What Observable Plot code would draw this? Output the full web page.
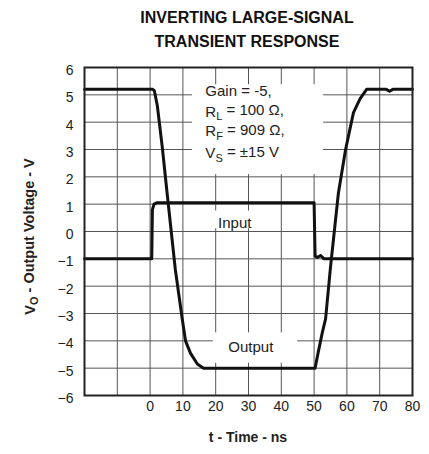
<!DOCTYPE html>
<html>
<head>
<meta charset="utf-8">
<script src="https://cdn.jsdelivr.net/npm/d3@7"></script>
<script src="https://cdn.jsdelivr.net/npm/@observablehq/plot@0.6"></script>
<style>
  html, body { margin: 0; padding: 0; background: #fff; }
  body { width: 429px; height: 454px; overflow: hidden; font-family: "Liberation Sans", Arial, sans-serif; }
  #title { box-sizing: border-box; height: 55px; width: 429px; padding: 6px 0 0 65px; text-align: center;
           font-weight: bold; font-size: 16px; line-height: 24px; color: #111; }
  #chart svg { display: block; }
</style>
</head>
<body>
<div id="title">INVERTING LARGE-SIGNAL<br>TRANSIENT RESPONSE</div>
<div id="chart"></div>
<script>
// Output waveform (time in ns, voltage in V)
const outT = [-20, 0.8, 1.3, 2.2, 3.7, 5.1, 7.7, 9.8, 10.8, 12.3, 14.4, 16.3, 50.3, 51.2, 52.5, 53.5, 55, 57.4, 59.6, 62, 64, 66, 72, 73, 74, 80];
const outV = [5.2, 5.2, 5.15, 4.6, 3.1, 1.5, -1.4, -3.2, -4.0, -4.45, -4.85, -5.0, -5.0, -4.45, -3.7, -3.2, -1.3, 1.4, 3.0, 4.35, 4.85, 5.2, 5.2, 5.13, 5.2, 5.2];
// Input waveform
const inT = [-20, 0.5, 0.7, 1.2, 2, 50, 50.3, 51, 52, 53, 80];
const inV = [-1, -1, 0.8, 1.0, 1.05, 1.05, -0.9, -0.95, -0.88, -1, -1];
// Axis ticks
const xTicks = [0, 10, 20, 30, 40, 50, 60, 70, 80];
const yTicks = [-6, -5, -4, -3, -2, -1, 0, 1, 2, 3, 4, 5, 6];
const xGrid = [-10, 0, 10, 20, 30, 40, 50, 60, 70];
const yGrid = [-5, -4, -3, -2, -1, 0, 1, 2, 3, 4, 5];
// Annotation texts
const condLines = [["Gain = -5,", "", ""], ["R", "L", " = 100 \u03A9,"], ["R", "F", " = 909 \u03A9,"], ["V", "S", " = \u00B115 V"]];
const seriesLabels = ["Input", "Output"];

const outData = outT.map((t, i) => ({t, v: outV[i]}));
const inData = inT.map((t, i) => ({t, v: inV[i]}));

// label backgrounds (data coordinates)
const boxes = [
  {x1: 12.9, x2: 52.9, y1: 2.08, y2: 5.37},
  {x1: 17.5, x2: 34.5, y1: 0.1, y2: 0.75},
  {x1: 19.3, x2: 45, y1: -4.82, y2: -3.71}
];
const labelPos = [{t: 25.8, v: 0.32, text: seriesLabels[0]}, {t: 30.7, v: -4.22, text: seriesLabels[1]}];

const chart = Plot.plot({
  width: 429, height: 399,
  marginLeft: 84, marginRight: 17, marginTop: 12, marginBottom: 59,
  style: {fontFamily: "'Liberation Sans', Arial, sans-serif", fontSize: "14px", color: "#222", background: "#fff"},
  x: {domain: [-20, 80], label: null},
  y: {domain: [-6, 6], label: null},
  marks: [
    Plot.ruleX(xGrid, {stroke: "#555", strokeWidth: 1}),
    Plot.ruleY(yGrid, {stroke: "#555", strokeWidth: 1}),
    Plot.rect(boxes, {x1: "x1", x2: "x2", y1: "y1", y2: "y2", fill: "#fff"}),
    Plot.line(inData, {x: "t", y: "v", stroke: "#111", strokeWidth: 3, strokeLinejoin: "round"}),
    Plot.line(outData, {x: "t", y: "v", stroke: "#111", strokeWidth: 3, strokeLinejoin: "round"}),
    Plot.frame({stroke: "#222", strokeWidth: 2}),
    Plot.text(labelPos, {x: "t", y: "v", text: "text", fontSize: 15, fill: "#222"}),
    Plot.axisX(xTicks, {tickSize: 0, tickPadding: 6, fontSize: 14}),
    Plot.axisY(yTicks, {tickSize: 0, tickPadding: 11, dy: 3, fontSize: 14})
  ]
});

const sx = chart.scale("x"), sy = chart.scale("y");
const svg = d3.select(chart);
const condY = [5.12, 4.38, 3.65, 2.85];
condLines.forEach((parts, i) => {
  const t = svg.append("text")
    .attr("x", sx.apply(17)).attr("y", sy.apply(condY[i]))
    .attr("text-anchor", "start")
    .attr("dy", "0.35em").attr("font-size", 15).attr("fill", "#222");
  t.append("tspan").text(parts[0]);
  if (parts[1]) {
    t.append("tspan").attr("dy", "0.3em").attr("font-size", 11).text(parts[1]);
    t.append("tspan").attr("dy", "-0.3em").text(parts[2]);
  }
});
// axis titles
const yl = svg.append("text")
  .attr("transform", `translate(30,${sy.apply(-0.2)}) rotate(-90)`)
  .attr("text-anchor", "middle").attr("dy", "0.35em")
  .attr("font-weight", "bold").attr("font-size", 14.5).attr("fill", "#222");
yl.append("tspan").text("V");
yl.append("tspan").attr("dy", "0.3em").attr("font-size", 11).text("O");
yl.append("tspan").attr("dy", "-0.3em").text(" - Output Voltage - V");
svg.append("text")
  .attr("x", sx.apply(30)).attr("y", 382).attr("dy", "0.35em")
  .attr("text-anchor", "middle").attr("font-weight", "bold").attr("font-size", 14).attr("fill", "#222")
  .text("t - Time - ns");

document.getElementById("chart").appendChild(chart);
</script>
</body>
</html>
